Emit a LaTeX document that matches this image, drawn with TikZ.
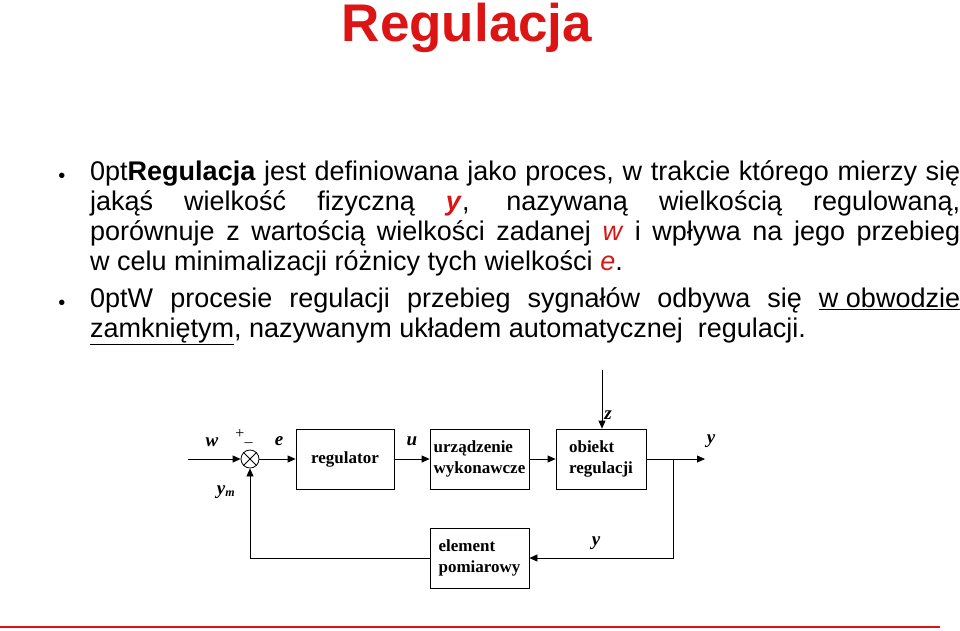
\documentclass[tikz,border=0pt]{standalone}
\usepackage{fontspec}
\setmainfont{Liberation Sans}
\newfontfamily\serifb{Liberation Serif}
\usetikzlibrary{arrows.meta}
\definecolor{rred}{RGB}{220,20,20}
\begin{document}
\begin{tikzpicture}[x=1pt,y=-1pt,
  blk/.style={draw,thick,minimum height=60pt,font=\serifb\bfseries\fontsize{17}{21}\selectfont,align=left},
  lab/.style={font=\serifb\bfseries\itshape\fontsize{19}{21}\selectfont},
  arr/.style={thick,-{Triangle[length=8pt,width=7pt]}},
  para/.style={anchor=north west,text width=870pt,align=justify,font=\fontsize{27}{30}\selectfont\hyphenpenalty=10000\exhyphenpenalty=10000,inner sep=0pt}]
\useasboundingbox (0,0) rectangle (960,630);
\node[font=\bfseries\fontsize{53}{58}\selectfont,text=rred] (title) at (467,28) {Regulacja};
\node[para] (p1) at (90,160)
{\textbf{Regulacja} jest definiowana jako proces, w trakcie którego mierzy się\linebreak jakąś wielkość fizyczną \textcolor{rred}{\textbf{\textit{y}}}, nazywaną wielkością regulowaną,\linebreak porównuje z wartością wielkości zadanej \textcolor{rred}{\textit{w}} i wpływa na jego przebieg\linebreak w celu minimalizacji różnicy tych wielkości \textcolor{rred}{\textit{e}}.};
\node[para] (p2) at (90,287)
{W procesie regulacji przebieg sygnałów odbywa się \underline{w obwodzie}\linebreak \underline{zamkniętym}, nazywanym układem automatycznej\ \ regulacji.};
\node[font=\fontsize{20}{20}\selectfont] (b1) at (62,178) {•};
\node[font=\fontsize{20}{20}\selectfont] (b2) at (62,305) {•};
% diagram
\coordinate (in) at (188,459);
\node[draw,thick,circle,minimum size=18pt,inner sep=0pt] (s) at (250,459) {};
\draw[thick] (s.north west)--(s.south east) (s.north east)--(s.south west);
\node[blk,minimum width=98pt] (reg) at (345,459) {\raisebox{-8pt}{regulator}};
\node[blk,minimum width=99pt] (urz) at (479.5,459) {urządzenie\\wykonawcze};
\node[blk,minimum width=90pt] (obj) at (601,459) {obiekt\\regulacji};
\node[blk,minimum width=99pt] (el) at (479.5,558) {element\\pomiarowy};
\coordinate (out) at (705,459);
\coordinate (br) at (673,459);
\coordinate (zt) at (602,370);
\draw[arr] (in) -- (s.west);
\draw[arr] (s.east) -- (reg.west);
\draw[arr] (reg.east) -- (urz.west);
\draw[arr] (urz.east) -- (obj.west);
\draw[arr] (obj.east) -- (out);
\draw[arr] (zt) -- (obj.north -| zt);
\draw[arr] (br) |- (el.east);
\draw[arr] (el.west) -| (s.south);
\node[lab] (lw) at (212,442) {w};
\node[font=\serifb\fontsize{16}{16}\selectfont] (lpm) at (244,437) {+\raisebox{-3pt}{\_}};
\node[lab] (le) at (279,441) {e};
\node[lab] (lu) at (412,441) {u};
\node[lab] (ly) at (711,441) {y};
\node[lab] (lz) at (608,415) {z};
\node[lab] (lym) at (226,492) {y\textsubscript{\fontsize{12}{12}\selectfont m}};
\node[lab] (ly2) at (596,543) {y};
\draw[rred,line width=1.5pt] (0,627) -- (940,627);
\end{tikzpicture}
\end{document}
